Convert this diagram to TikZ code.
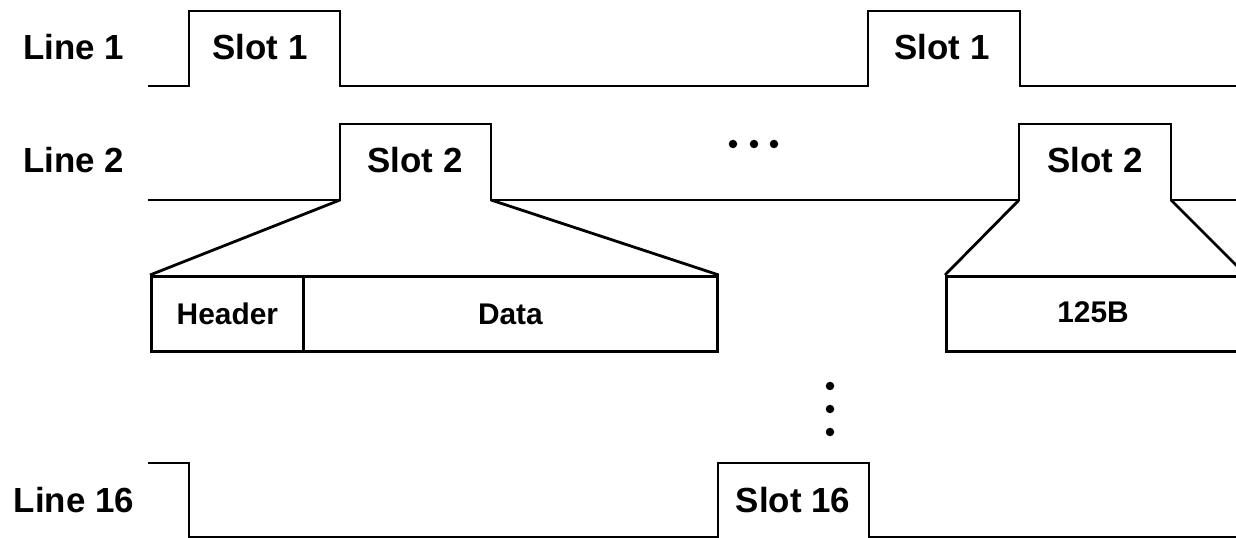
\documentclass[tikz,border=0pt]{standalone}
\usepackage{fontspec}
\setmainfont{Liberation Sans}
\begin{document}
\begin{tikzpicture}[x=1bp,y=-1bp,
  wave/.style={line width=2.8bp,line join=miter,black},
  lbl/.style={font=\bfseries\fontsize{35}{35}\selectfont,inner sep=0pt},
  fld/.style={font=\bfseries\fontsize{30}{30}\selectfont,inner sep=0pt},
  fbox/.style={draw,line width=2.8bp,minimum height=75bp,anchor=north west,inner sep=0pt},
  dot/.style={circle,fill=black,inner sep=0pt,minimum size=8.5bp}]
\useasboundingbox (0,0) rectangle (1236,538);
\clip (0,0) rectangle (1236,538);
% Line 1
\draw[wave] (148,86) -- (189,86) -- (189,11) -- (340,11) -- (340,86) -- (868,86) -- (868,11) -- (1020,11) -- (1020,86) -- (1240,86);
% Line 2
\draw[wave] (148,200) -- (340,200) -- (340,124) -- (491,124) -- (491,200) -- (1019,200) -- (1019,124) -- (1171,124) -- (1171,200) -- (1240,200);
% Line 16
\draw[wave] (148,463) -- (189,463) -- (189,545);
\draw[wave] (189,537) -- (718,537) -- (718,463) -- (869,463) -- (869,537) -- (1240,537);
% expansion 1
\coordinate (s2a) at (340,200);
\coordinate (s2b) at (491,200);
\node[fbox,minimum width=152bp] (hdr) at (150,275) {};
\node[fbox,minimum width=414bp] (dat) at (302,275) {};
\draw[wave] (s2a) -- (hdr.north west);
\draw[wave] (s2b) -- (dat.north east);
\node[fld] at (hdr.center) {Header};
\node[fld] at (dat.center) {Data};
% expansion 2
\coordinate (s2c) at (1019,200);
\coordinate (s2d) at (1171,200);
\node[fbox,minimum width=320bp] (pl) at (945,275) {};
\draw[wave] (s2c) -- (pl.north west);
\draw[wave] (s2d) -- (1246,275);
\node[fld] at (1093,312) {125B};
% labels
\node[lbl] (l1) at (74,47) {Line 1};
\node[lbl] (l2) at (74,160) {Line 2};
\node[lbl] (l16) at (74,500) {Line 16};
\node[lbl] (t1) at (260,47) {Slot 1};
\node[lbl] (t1b) at (942,47) {Slot 1};
\node[lbl] (t2) at (415,160) {Slot 2};
\node[lbl] (t2b) at (1095,160) {Slot 2};
\node[lbl] (t16) at (793,500) {Slot 16};
% dots
\node[dot] (h1) at (733,144) {};
\node[dot] (h2) at (754,144) {};
\node[dot] (h3) at (774,144) {};
\node[dot] (v1) at (830,386) {};
\node[dot] (v2) at (830,409) {};
\node[dot] (v3) at (830,432) {};
\end{tikzpicture}
\end{document}
